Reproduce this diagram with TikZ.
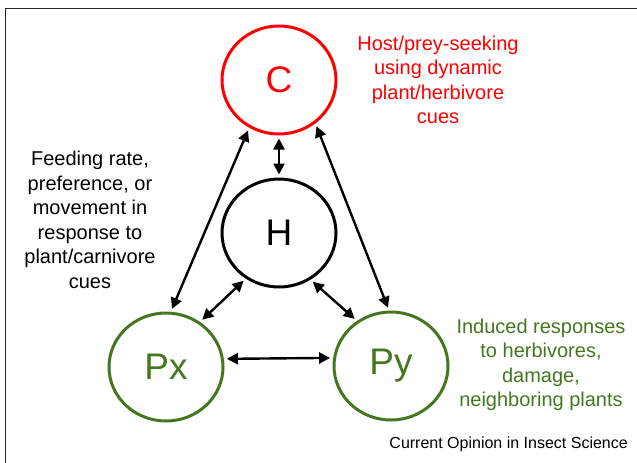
\documentclass[tikz,border=0pt]{standalone}
\usepackage{fontspec}
\setmainfont{Liberation Sans}
\usetikzlibrary{arrows.meta,shapes.geometric}
\definecolor{cred}{RGB}{255,0,0}
\definecolor{cgreen}{RGB}{70,118,32}
\begin{document}
\begin{tikzpicture}[x=1pt,y=1pt,
  circ/.style={ellipse, draw, line width=3pt, minimum width=114pt, minimum height=108pt, inner sep=0pt, font=\fontsize{37}{40}\selectfont},
  biarrow/.style={{Triangle[length=11pt,width=11pt]}-{Triangle[length=11pt,width=11pt]}, line width=2.4pt, shorten <=3pt, shorten >=3pt},
  lbl/.style={align=center, font=\fontsize{20}{24.5}\selectfont}]
\useasboundingbox (0,0) rectangle (637,-463);
\draw[line width=1.3pt, black!85] (5.5,-463) -- (5.5,-8.5) -- (637,-8.5);

\node[circ, draw=cred, text=cred] (C) at (279,-80) {C};
\node[circ] (H) at (279,-233) {H};
\node[circ, draw=cgreen, text=cgreen] (Px) at (166,-367) {Px};
\node[circ, draw=cgreen, text=cgreen] (Py) at (391,-366) {Py};

\draw[biarrow] (C.238) -- (Px.85);
\draw[biarrow] (C.310) -- (Py.92);
\draw[biarrow] (C.south) -- (H.north);
\draw[biarrow] (H.234) -- (Px.53);
\draw[biarrow] (H.304) -- (Py.127);
\draw[biarrow] (Px.8) -- (Py.172);

\node[lbl, text=cred] (ct) at (438,-80) {Host/prey-seeking\\using dynamic\\plant/herbivore\\cues};
\node[lbl] (ht) at (90,-220) {Feeding rate,\\preference, or\\movement in\\response to\\plant/carnivore\\cues};
\node[lbl, text=cgreen] (pt) at (541,-365) {Induced responses\\to herbivores,\\damage,\\neighboring plants};
\node[anchor=east, inner sep=0pt, font=\fontsize{16}{19}\selectfont] (src) at (628,-444) {Current Opinion in Insect Science};
\end{tikzpicture}
\end{document}
